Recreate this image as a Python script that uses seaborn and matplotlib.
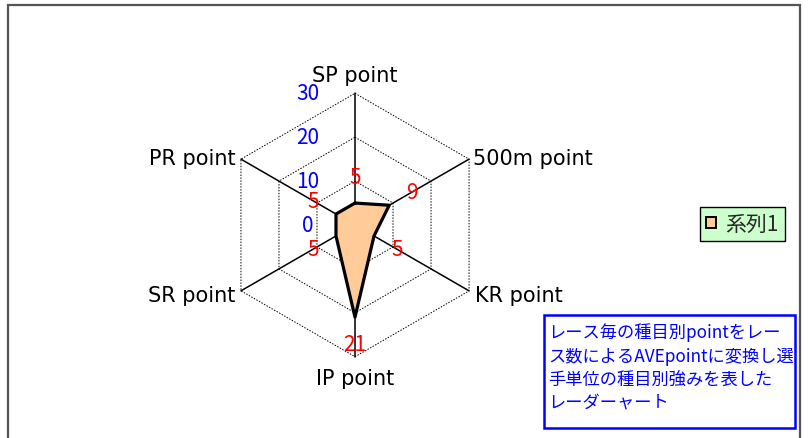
import numpy as np
import pandas as pd
import matplotlib
matplotlib.use("Agg")
import matplotlib.pyplot as plt
import seaborn as sns
from matplotlib.patches import Rectangle, Patch

categories = ["SP point", "500m point", "KR point", "IP point", "SR point", "PR point"]
values = [5, 9, 5, 21, 5, 5]
ticks = [0, 10, 20, 30]
series_name = "系列1"
note = "レース毎の種目別pointをレー\nス数によるAVEpointに変換し選\n手単位の種目別強みを表した\nレーダーャート"

sns.set_theme(style="white")
plt.rcParams['font.family'] = ['Noto Sans CJK JP', 'DejaVu Sans']

W, H = 808, 439
fig = plt.figure(figsize=(W / 100, H / 100), dpi=100)
ax = fig.add_axes([0, 0, 1, 1])
ax.set_axis_off()

# mapping: center at (355,226) px, 30 units = 131.7 px
cx, cy = 355, 226
ppu = 131.7 / 30
ax.set_xlim(-cx / ppu, (W - cx) / ppu)
ax.set_ylim(-(H - cy) / ppu, cy / ppu)

n = len(categories)
angles = np.deg2rad(90 - 360 / n * np.arange(n))
rmax = ticks[-1]

# grid rings (dotted)
for t in ticks[1:]:
    xs = np.append(t * np.cos(angles), t * np.cos(angles[0]))
    ys = np.append(t * np.sin(angles), t * np.sin(angles[0]))
    ax.plot(xs, ys, color="black", lw=0.7, ls=(0, (1.5, 1.5)), zorder=1)

# spokes
for a in angles:
    ax.plot([0, rmax * np.cos(a)], [0, rmax * np.sin(a)], color="black", lw=1.1, zorder=2)

# data polygon
v = np.array(values, dtype=float)
px = v * np.cos(angles)
py = v * np.sin(angles)
df = pd.DataFrame({"x": np.append(px, px[0]), "y": np.append(py, py[0])})
ax.fill(df["x"], df["y"], color="#FFCC99", zorder=3, label=series_name)
sns.lineplot(data=df, x="x", y="y", sort=False, color="black", lw=2.3, ax=ax, zorder=4,
             estimator=None)
ax.set_axis_off()
if ax.get_legend():
    ax.get_legend().remove()

# data labels (red)
for a, val in zip(angles, values):
    r = val + 6
    ax.text(r * np.cos(a), r * np.sin(a), f"{val}", color="#FF0000", fontsize=15,
            ha="center", va="center", zorder=5)

# tick labels (blue)
for t in ticks:
    ax.annotate(f"{t}", xy=(0, t), xytext=(-34, 0), textcoords="offset points",
                color="#0000FF", fontsize=15, ha="center", va="center", zorder=5)

# category labels
offsets = {
    0: ((0, 13), "center", "center"),
    1: ((3, 1), "left", "center"),
    2: ((4, -3), "left", "center"),
    3: ((0, -15), "center", "center"),
    4: ((-4, -3), "right", "center"),
    5: ((-4, 1), "right", "center"),
}
for i, (a, lab) in enumerate(zip(angles, categories)):
    off, ha, va = offsets[i]
    ax.annotate(lab, xy=(rmax * np.cos(a), rmax * np.sin(a)), xytext=off,
                textcoords="offset points", ha=ha, va=va, fontsize=15, color="black",
                family=['DejaVu Sans'])

# legend
handle = Patch(facecolor="#FFCC99", edgecolor="black", linewidth=1.4, label=series_name)
leg = fig.legend(handles=[handle], loc="center",
                 bbox_to_anchor=((696 + 789) / 2 / W, 1 - 225 / H),
                 fontsize=15, frameon=True, fancybox=False, handlelength=0.45,
                 handleheight=0.45, handletextpad=0.45, borderpad=0.3, borderaxespad=0)
leg.get_frame().set_facecolor("#CCFFCC")
leg.get_frame().set_edgecolor("black")
leg.get_frame().set_linewidth(1.0)
leg.get_frame().set_alpha(1)

# note box
fig.patches.append(Rectangle((544 / W, 1 - 429 / H), (795 - 544) / W, (429 - 316) / H,
                             transform=fig.transFigure, fill=False, edgecolor="#0000FF",
                             linewidth=1.8))
fig.text(548 / W, 1 - 323 / H, note, color="#0000FF", fontsize=12.4, ha="left", va="top",
         linespacing=1.4)

# figure border (bottom cut off)
fig.patches.append(Rectangle((8 / W, -0.05), (800 - 8) / W, 1.05 - 6 / H,
                             transform=fig.transFigure, fill=False, edgecolor="#555555",
                             linewidth=1.6))

fig.savefig("out.png", dpi=100)
